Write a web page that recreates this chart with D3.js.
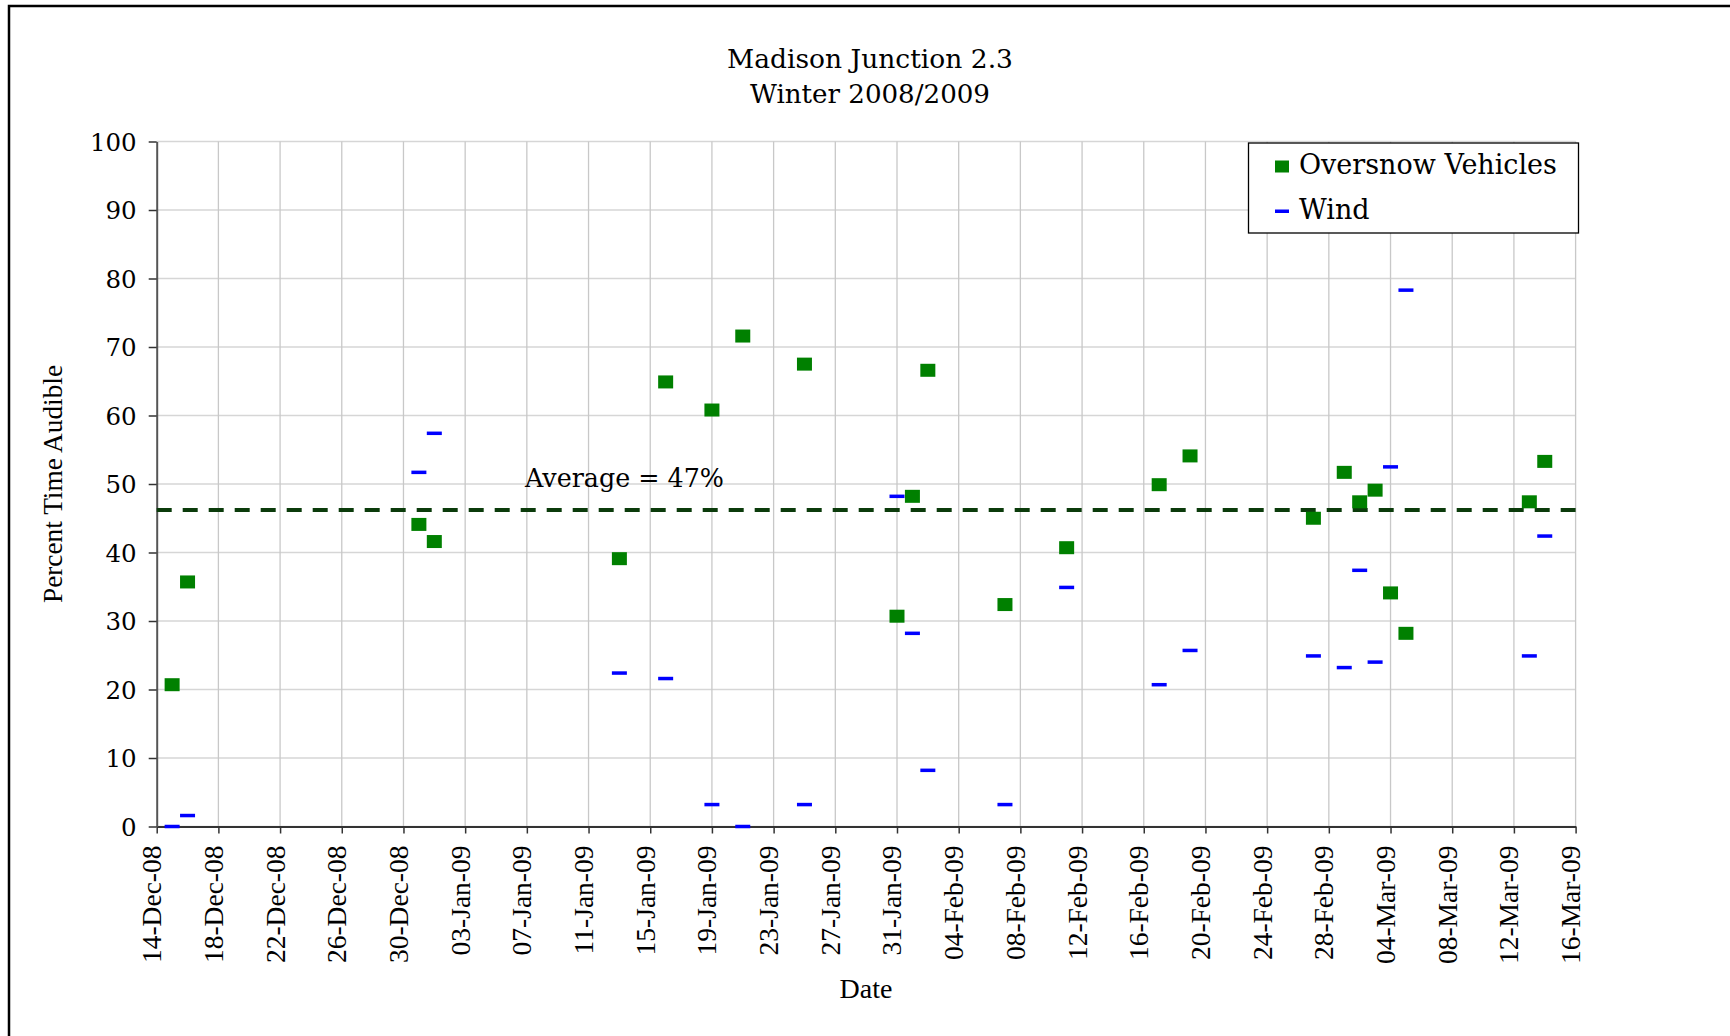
<!DOCTYPE html>
<html>
<head>
<meta charset="utf-8">
<script src="https://cdn.jsdelivr.net/npm/d3@7"></script>
<style>
  html, body { margin: 0; padding: 0; background: #fff; }
  svg { display: block; }
</style>
</head>
<body>
<svg id="chart" width="1730" height="1036"></svg>
<script>
// ---- data ----
const titleLines = ["Madison Junction 2.3", "Winter 2008/2009"];
const seriesNames = ["Oversnow Vehicles", "Wind"];
const dates = ["2008-12-15","2008-12-16","2008-12-31","2009-01-01","2009-01-13","2009-01-16",
  "2009-01-19","2009-01-21","2009-01-25","2009-01-31","2009-02-01","2009-02-02",
  "2009-02-07","2009-02-11","2009-02-17","2009-02-19","2009-02-27","2009-03-01",
  "2009-03-02","2009-03-03","2009-03-04","2009-03-05","2009-03-13","2009-03-14"];
const oversnow = [20.7,35.7,44.1,41.6,39.1,64.9,60.8,71.6,67.5,30.7,48.2,66.6,
  32.4,40.7,49.9,54.1,45.0,51.7,47.4,49.1,34.1,28.2,47.4,53.3];
const wind = [0,1.6,51.7,57.4,22.4,21.6,3.2,0,3.2,48.2,28.2,8.2,
  3.2,34.9,20.7,25.7,24.9,23.2,37.4,24.0,52.5,78.3,24.9,42.4];
const averageLineValue = 46.2;
const averageLabel = "Average = 47%";
const xDomain = ["2008-12-14", "2009-03-16"];
const xTickStepDays = 4;
const yTicks = [0,10,20,30,40,50,60,70,80,90,100];
const xTitle = "Date";
const yTitle = "Percent Time Audible";

// ---- layout ----
const parse = d3.utcParse("%Y-%m-%d");
const L = 156.7, R = 1575.6, T = 141.5, B = 826.5;
const svg = d3.select("#chart");
const palFont = "'DejaVu Serif', serif";
const timesFont = "'Liberation Serif', 'Times New Roman', serif";

const x = d3.scaleUtc().domain(xDomain.map(parse)).range([L, R]);
const y = d3.scaleLinear().domain([0, 100]).range([B, T]);

function fitText(sel, target) {
  const node = sel.node();
  const fs = parseFloat(sel.attr("font-size"));
  const w = node.getComputedTextLength();
  if (w > 0) sel.attr("font-size", (fs * target / w).toFixed(2));
  return sel;
}

// outer frame
svg.append("rect").attr("x", 9).attr("y", 6).attr("width", 1740).attr("height", 1060)
  .attr("fill", "none").attr("stroke", "#000").attr("stroke-width", 2.5);

// title
titleLines.forEach((t, i) => {
  const s = svg.append("text").attr("x", 870).attr("y", 68 + i * 35)
    .attr("text-anchor", "middle").attr("font-family", palFont)
    .attr("font-size", 24).attr("fill", "#000").text(t);
  fitText(s, i === 0 ? 286 : 240);
});

// gridlines
const xTicks = d3.utcDay.range(parse(xDomain[0]), d3.utcDay.offset(parse(xDomain[1]), 1), xTickStepDays);
svg.append("g").selectAll("line").data(yTicks).join("line")
  .attr("x1", L).attr("x2", R).attr("y1", d => y(d)).attr("y2", d => y(d))
  .attr("stroke", "#d6d6d6").attr("stroke-width", 1.6);
svg.append("g").selectAll("line").data(xTicks.slice(1)).join("line")
  .attr("x1", d => x(d)).attr("x2", d => x(d)).attr("y1", T).attr("y2", B)
  .attr("stroke", "#c8c8c8").attr("stroke-width", 1.3);

// axes
const fmt = d3.utcFormat("%d-%b-%y");
const xAxis = svg.append("g").attr("transform", `translate(0,${B})`)
  .call(d3.axisBottom(x).tickValues(xTicks).tickFormat(fmt).tickSize(7).tickSizeOuter(0));
xAxis.select(".domain").attr("stroke", "#333").attr("stroke-width", 2);
xAxis.selectAll(".tick line").attr("stroke", "#333").attr("stroke-width", 1.5);
xAxis.selectAll(".tick text")
  .attr("font-family", timesFont).attr("font-size", 27.5).attr("fill", "#000")
  .attr("text-anchor", "end").attr("dy", null)
  .attr("transform", "translate(4,19) rotate(-90)")
  .attr("x", 0).attr("y", 0);

const yAxis = svg.append("g").attr("transform", `translate(${L},0)`)
  .call(d3.axisLeft(y).tickValues(yTicks).tickSize(8).tickSizeOuter(0));
yAxis.select(".domain").attr("stroke", "#555").attr("stroke-width", 2);
yAxis.selectAll(".tick line").attr("stroke", "#333").attr("stroke-width", 1.5);
yAxis.selectAll(".tick text")
  .attr("font-family", palFont).attr("font-size", 24.5).attr("fill", "#000")
  .attr("x", -20).attr("dy", "0.36em");

// axis titles
svg.append("text").attr("x", 866).attr("y", 998).attr("text-anchor", "middle")
  .attr("font-family", timesFont).attr("font-size", 28).attr("fill", "#000").text(xTitle);
svg.append("text").attr("transform", "translate(62,484) rotate(-90)").attr("text-anchor", "middle")
  .attr("font-family", timesFont).attr("font-size", 27.3).attr("fill", "#000").text(yTitle);

// average line + label
svg.append("line").attr("x1", L).attr("x2", R)
  .attr("y1", y(averageLineValue)).attr("y2", y(averageLineValue))
  .attr("stroke", "#0b3b0b").attr("stroke-width", 4).attr("stroke-dasharray", "15,11");
fitText(svg.append("text").attr("x", 525).attr("y", 486.5)
  .attr("font-family", palFont).attr("font-size", 22).attr("fill", "#000").text(averageLabel), 199);

// data
const pts = dates.map((d, i) => ({ date: parse(d), ov: oversnow[i], wind: wind[i] }));
svg.append("g").selectAll("rect").data(pts).join("rect")
  .attr("x", d => x(d.date) - 7.5).attr("y", d => y(d.wind) - 1.75)
  .attr("width", 15).attr("height", 3.5).attr("fill", "#0000ff");
svg.append("g").selectAll("rect").data(pts).join("rect")
  .attr("x", d => x(d.date) - 7.5).attr("y", d => y(d.ov) - 6.5)
  .attr("width", 15).attr("height", 13).attr("fill", "#008000");

// legend
const lg = svg.append("g");
lg.append("rect").attr("x", 1248.5).attr("y", 143).attr("width", 330).attr("height", 90)
  .attr("fill", "#fff").attr("stroke", "#000").attr("stroke-width", 1.3);
lg.append("rect").attr("x", 1275).attr("y", 160.5).attr("width", 14).attr("height", 12).attr("fill", "#008000");
lg.append("rect").attr("x", 1275).attr("y", 209.5).attr("width", 14).attr("height", 3.5).attr("fill", "#0000ff");
fitText(lg.append("text").attr("x", 1299).attr("y", 174).attr("font-family", palFont)
  .attr("font-size", 24).attr("fill", "#000").text(seriesNames[0]), 258);
const w2 = lg.append("text").attr("x", 1299).attr("y", 219).attr("font-family", palFont)
  .attr("fill", "#000").text(seriesNames[1]);
w2.attr("font-size", lg.selectAll("text").nodes()[0].getAttribute("font-size"));
</script>
</body>
</html>
